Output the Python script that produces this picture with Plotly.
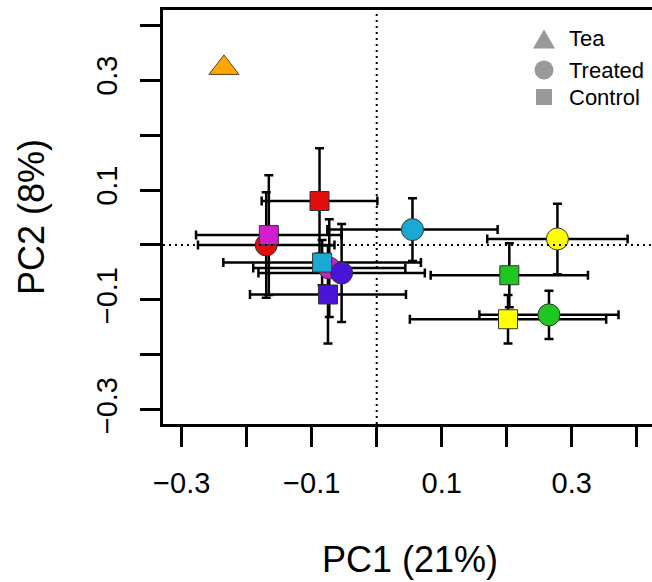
import plotly.graph_objects as go

# PCA scores (group means) with standard-error bars
palette = {
    "red": "#E20E0E",
    "magenta": "#D11ED1",
    "purple": "#4A14D8",
    "cyan": "#1AA8D4",
    "yellow": "#FFFF00",
    "green": "#1EC81E",
}

tea_x = [-0.235]
tea_y = [0.322]

treated_colors = ["red", "magenta", "purple", "cyan", "yellow", "green"]
treated_x = [-0.170, -0.073, -0.054, 0.055, 0.278, 0.265]
treated_y = [0.000, -0.042, -0.051, 0.028, 0.011, -0.127]
treated_xerr = [0.105, 0.117, 0.128, 0.131, 0.108, 0.107]
treated_yerr = [0.096, 0.089, 0.089, 0.057, 0.064, 0.044]

control_colors = ["red", "magenta", "cyan", "purple", "green", "yellow"]
control_x = [-0.088, -0.166, -0.084, -0.075, 0.204, 0.202]
control_y = [0.080, 0.018, -0.032, -0.090, -0.055, -0.135]
control_xerr = [0.089, 0.112, 0.152, 0.120, 0.121, 0.151]
control_yerr = [0.096, 0.109, 0.041, 0.089, 0.058, 0.044]

tick_vals = [-0.3, -0.2, -0.1, 0.0, 0.1, 0.2, 0.3, 0.4]
tick_text = ["\u22120.3", "", "\u22120.1", "", "0.1", "", "0.3", ""]

legend_labels = ["Tea", "Treated", "Control"]

x_range = [-0.3288, 0.4235]
y_range = [-0.3255, 0.4273]

W, H = 652, 582
M_L, M_R, M_T, M_B = 163, 0, 10, 158
PLOT_W = W - M_L - M_R
PLOT_H = H - M_T - M_B

FONT = "Liberation Sans, Arial, sans-serif"
err_style = dict(type="data", thickness=2.5, width=4.5, color="black")


def px_x(p):
    """Horizontal page pixel -> paper fraction."""
    return (p - M_L) / PLOT_W


def px_y(p):
    """Vertical page pixel -> paper fraction."""
    return (H - M_B - p) / PLOT_H


fig = go.Figure()

# error bars first so every marker sits on top of them
for xs, ys, xe, ye in [
    (treated_x, treated_y, treated_xerr, treated_yerr),
    (control_x, control_y, control_xerr, control_yerr),
]:
    fig.add_trace(go.Scatter(
        x=xs, y=ys, mode="markers",
        marker=dict(size=1, color="rgba(0,0,0,0)"),
        error_x=dict(array=xe, **err_style),
        error_y=dict(array=ye, **err_style),
        showlegend=False, hoverinfo="skip",
    ))

fig.add_trace(go.Scatter(
    x=treated_x, y=treated_y, mode="markers", showlegend=False,
    marker=dict(symbol="circle", size=22,
                color=[palette[c] for c in treated_colors],
                line=dict(color="#333333", width=1)),
))
fig.add_trace(go.Scatter(
    x=control_x, y=control_y, mode="markers", showlegend=False,
    marker=dict(symbol="square", size=19,
                color=[palette[c] for c in control_colors],
                line=dict(color="#333333", width=1)),
))
fig.add_trace(go.Scatter(
    x=tea_x, y=tea_y, mode="markers", showlegend=False,
    marker=dict(symbol="triangle-up", size=26, color="#FFA500",
                line=dict(color="#5a4020", width=1)),
))

# dotted reference lines through the origin
fig.add_shape(type="line", xref="x", yref="paper", x0=0, x1=0, y0=0, y1=1,
              line=dict(color="black", width=2, dash="2px,4px"))
fig.add_shape(type="line", xref="paper", yref="y", x0=0, x1=1, y0=0, y1=0,
              line=dict(color="black", width=2, dash="2px,4px"))

# legend: gray keys drawn as shapes, labels as annotations
KEY = "#999999"
key_cx = 544
rows_y = [39, 70, 97]
tri_w, tri_h = 22, 19
ty = rows_y[0]
fig.add_shape(type="path", xref="paper", yref="paper",
              path=(f"M {px_x(key_cx - tri_w / 2)},{px_y(ty + tri_h / 2)} "
                    f"L {px_x(key_cx + tri_w / 2)},{px_y(ty + tri_h / 2)} "
                    f"L {px_x(key_cx)},{px_y(ty - tri_h / 2)} Z"),
              fillcolor=KEY, line=dict(width=0))
cr = 9.5
fig.add_shape(type="circle", xref="paper", yref="paper",
              x0=px_x(key_cx - cr), x1=px_x(key_cx + cr),
              y0=px_y(rows_y[1] + cr), y1=px_y(rows_y[1] - cr),
              fillcolor=KEY, line=dict(width=0))
sq = 8
fig.add_shape(type="rect", xref="paper", yref="paper",
              x0=px_x(key_cx - sq), x1=px_x(key_cx + sq),
              y0=px_y(rows_y[2] + sq), y1=px_y(rows_y[2] - sq),
              fillcolor=KEY, line=dict(width=0))

annotations = [
    dict(text=lab, xref="paper", yref="paper", x=px_x(567), y=px_y(ry),
         xanchor="left", yanchor="middle", showarrow=False,
         font=dict(family=FONT, size=22, color="black"))
    for lab, ry in zip(legend_labels, rows_y)
]
annotations += [
    dict(text="PC1 (21%)", xref="paper", yref="paper", x=px_x(410), y=px_y(559),
         xanchor="center", yanchor="middle", showarrow=False, borderpad=0,
         font=dict(family=FONT, size=36, color="black")),
    dict(text="PC2 (8%)", xref="paper", yref="paper", x=px_x(31), y=0.5,
         xanchor="center", yanchor="middle", textangle=-90, showarrow=False,
         font=dict(family=FONT, size=36, color="black")),
]

axis_common = dict(
    showgrid=False, zeroline=False, showline=True, linecolor="black", linewidth=2.5,
    ticks="outside", ticklen=20, tickwidth=2.5, tickcolor="black",
    tickvals=tick_vals, ticktext=tick_text,
    tickfont=dict(family=FONT, size=29, color="black"),
)

fig.update_layout(
    width=W, height=H,
    margin=dict(l=M_L, r=M_R, t=M_T, b=M_B),
    paper_bgcolor="white", plot_bgcolor="white",
    showlegend=False,
    xaxis=dict(range=x_range, mirror=True, ticklabelstandoff=11, **axis_common),
    yaxis=dict(range=y_range, mirror=False, tickangle=-90, ticklabelstandoff=12, **axis_common),
    annotations=annotations,
)

fig.write_html("out.html")
